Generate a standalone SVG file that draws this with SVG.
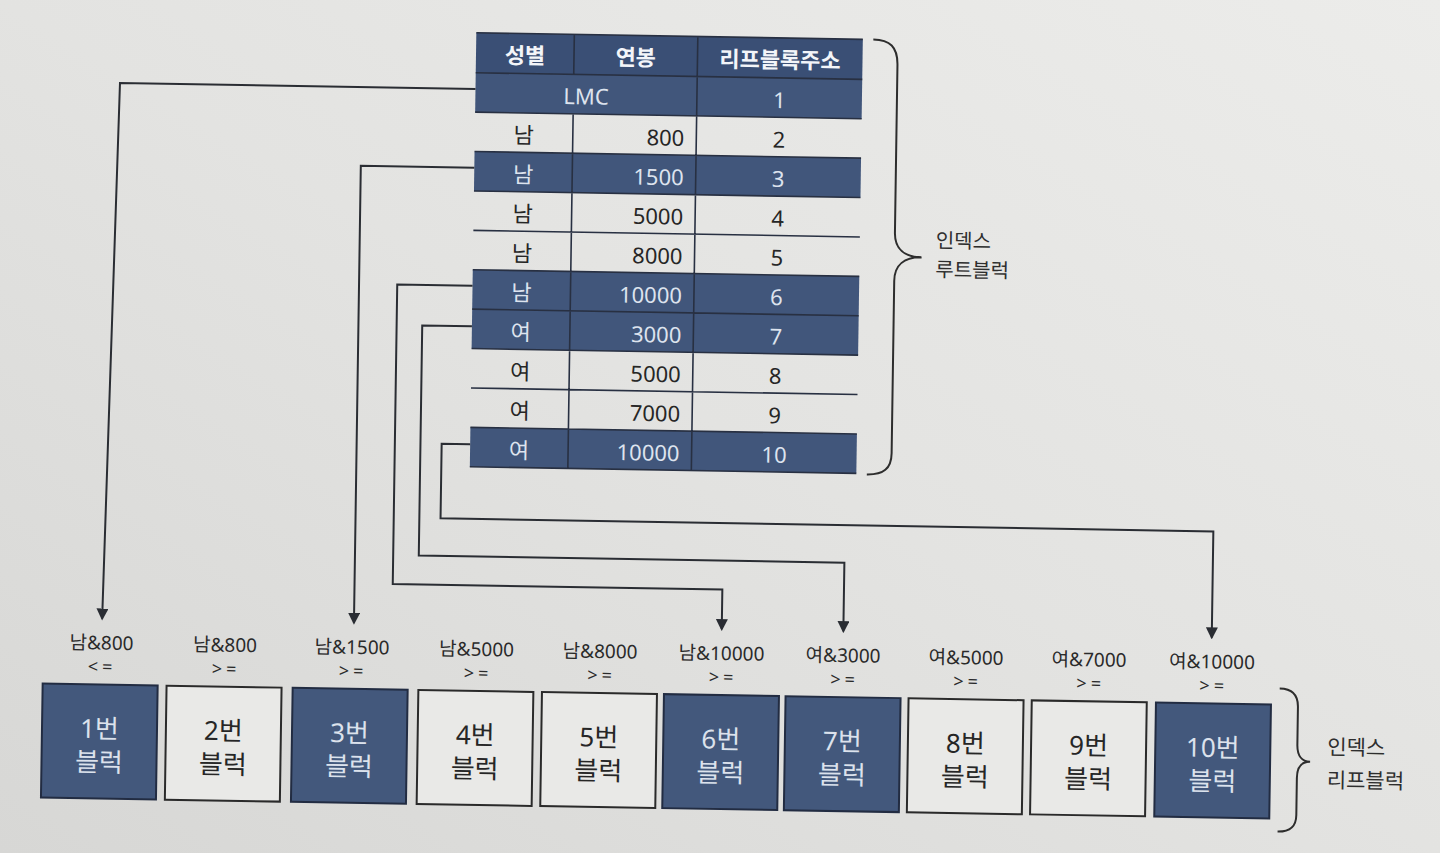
<svg xmlns="http://www.w3.org/2000/svg" width="1440" height="853" viewBox="0 0 1440 853">
<defs>
<linearGradient id="bg" x1="0" y1="1" x2="1" y2="0">
<stop offset="0" stop-color="#d7d7d5"/>
<stop offset="0.5" stop-color="#e3e3e1"/>
<stop offset="1" stop-color="#ececea"/>
</linearGradient>
<marker id="arr" markerUnits="userSpaceOnUse" markerWidth="12" markerHeight="12" refX="10" refY="6" orient="auto">
<path d="M0,0 L12,6 L0,12 Z" fill="#2a2d33"/>
</marker>
<style>
text{font-family:"Noto Sans","Noto Sans CJK KR",sans-serif}
.dark{fill:#41567b}
.hdr{fill:#3a4f75}
.tl{stroke:#283042;stroke-width:1.6;fill:none}
.th{font-size:22px;font-weight:700;fill:#f3f5f9;text-anchor:middle}
.tdw{font-size:22px;fill:#dde3ee}
.tdb{font-size:22px;fill:#262626}
.m{text-anchor:middle}
.e{text-anchor:end}
.conn{stroke:#2a2d33;stroke-width:2;fill:none;marker-end:url(#arr)}
.brace{stroke:#2d2d2d;stroke-width:2;fill:none}
.blab{font-size:21px;fill:#2e2e2e}
.rlab{font-size:20px;fill:#2e2e2e}
.bd{fill:#43587c;stroke:#222c42;stroke-width:2}
.bl{fill:#e9e9e7;stroke:#2a2a2a;stroke-width:2}
.btw{font-size:26px;fill:#dce2ec;text-anchor:middle}
.btb{font-size:26px;fill:#262626;text-anchor:middle}
.lk{font-size:19px;fill:#2a2a2a;text-anchor:middle}
.op{font-size:18px;fill:#2a2a2a;text-anchor:middle;letter-spacing:4px}
</style>
</defs>
<rect x="0" y="0" width="1440" height="853" fill="url(#bg)"/>
<g transform="matrix(1,0.017,-0.015,1,6.39,-12.24)">
<g id="root-block">
<g id="row-header">
<rect class="hdr" x="470.5" y="37" width="386.5" height="40"/>
<text class="th" x="519.5" y="67">성별</text>
<text class="th" x="630.25" y="67">연봉</text>
<text class="th" x="774.5" y="67">리프블록주소</text>
</g>
<g id="row-lmc">
<rect class="dark" x="470.5" y="77" width="386.5" height="39.4"/>
<text class="tdw m" x="581.25" y="106.7">LMC</text>
<text class="tdw m" x="774.5" y="107.2">1</text>
</g>
<g id="row-2">
<text class="tdb m" x="519.5" y="146.6">남</text>
<text class="tdb e" x="680" y="146.6">800</text>
<text class="tdb m" x="774.5" y="146.6">2</text>
</g>
<g id="row-3">
<rect class="dark" x="470.5" y="155.8" width="386.5" height="39.4"/>
<text class="tdw m" x="519.5" y="186">남</text>
<text class="tdw e" x="680" y="186">1500</text>
<text class="tdw m" x="774.5" y="186">3</text>
</g>
<g id="row-4">
<text class="tdb m" x="519.5" y="225.4">남</text>
<text class="tdb e" x="680" y="225.4">5000</text>
<text class="tdb m" x="774.5" y="225.4">4</text>
</g>
<g id="row-5">
<text class="tdb m" x="519.5" y="264.8">남</text>
<text class="tdb e" x="680" y="264.8">8000</text>
<text class="tdb m" x="774.5" y="264.8">5</text>
</g>
<g id="row-6">
<rect class="dark" x="470.5" y="274" width="386.5" height="39.4"/>
<text class="tdw m" x="519.5" y="304.2">남</text>
<text class="tdw e" x="680" y="304.2">10000</text>
<text class="tdw m" x="774.5" y="304.2">6</text>
</g>
<g id="row-7">
<rect class="dark" x="470.5" y="313.4" width="386.5" height="39.4"/>
<text class="tdw m" x="519.5" y="343.6">여</text>
<text class="tdw e" x="680" y="343.6">3000</text>
<text class="tdw m" x="774.5" y="343.6">7</text>
</g>
<g id="row-8">
<text class="tdb m" x="519.5" y="383">여</text>
<text class="tdb e" x="680" y="383">5000</text>
<text class="tdb m" x="774.5" y="383">8</text>
</g>
<g id="row-9">
<text class="tdb m" x="519.5" y="422.4">여</text>
<text class="tdb e" x="680" y="422.4">7000</text>
<text class="tdb m" x="774.5" y="422.4">9</text>
</g>
<g id="row-10">
<rect class="dark" x="470.5" y="431.6" width="386.5" height="39.4"/>
<text class="tdw m" x="519.5" y="461.8">여</text>
<text class="tdw e" x="680" y="461.8">10000</text>
<text class="tdw m" x="774.5" y="461.8">10</text>
</g>
<path class="tl" d="M470.5 37H857M470.5 77H857M470.5 116.4H857M470.5 155.8H857M470.5 195.2H857M470.5 234.6H857M470.5 274H857M470.5 313.4H857M470.5 352.8H857M470.5 392.2H857M470.5 431.6H857M470.5 471H857M568.5 37V77M568.5 116.4V471M692 37V471"/>
</g>
<g id="brace-root">
<path class="brace" d="M867.5 37C884 37 892 44 892 62L892 230C892 246 902 254 919 254C902 254 892 262 892 278L892 450C892 466 884 472 867.5 472"/>
<text class="rlab" x="933" y="244">인덱스</text>
<text class="rlab" x="933" y="273">루트블럭</text>
</g>
<g id="connectors">
<path class="conn" d="M470.5 93.2H115L105.2 629"/>
<path class="conn" d="M470.5 172H357V629"/>
<path class="conn" d="M470.5 290H395.2V589.5H724.8V629"/>
<path class="conn" d="M470.5 330.6H420.8V560.5H846.4V629"/>
<path class="conn" d="M470.5 448.5H442V523H1214.8V629"/>
</g>
<g id="leaf-1">
<text class="lk" x="105" y="660">남&amp;800</text>
<text class="op" x="106" y="683.5">&lt;=</text>
<rect class="bd" x="46.7" y="695" width="115" height="114"/>
<text class="btw" x="104.2" y="748.5">1번</text>
<text class="btw" x="104.2" y="782">블럭</text>
</g>
<g id="leaf-2">
<text class="lk" x="228.5" y="660">남&amp;800</text>
<text class="op" x="230" y="683.5">&gt;=</text>
<rect class="bl" x="170.6" y="695" width="115" height="114"/>
<text class="btb" x="228.1" y="748.5">2번</text>
<text class="btb" x="228.1" y="782">블럭</text>
</g>
<g id="leaf-3">
<text class="lk" x="355.5" y="660">남&amp;1500</text>
<text class="op" x="357" y="683.5">&gt;=</text>
<rect class="bd" x="296.7" y="695" width="115" height="114"/>
<text class="btw" x="354.2" y="748.5">3번</text>
<text class="btw" x="354.2" y="782">블럭</text>
</g>
<g id="leaf-4">
<text class="lk" x="480" y="660">남&amp;5000</text>
<text class="op" x="482" y="683.5">&gt;=</text>
<rect class="bl" x="422.4" y="695" width="115" height="114"/>
<text class="btb" x="479.9" y="748.5">4번</text>
<text class="btb" x="479.9" y="782">블럭</text>
</g>
<g id="leaf-5">
<text class="lk" x="603.5" y="660">남&amp;8000</text>
<text class="op" x="605.5" y="683.5">&gt;=</text>
<rect class="bl" x="546" y="695" width="115" height="114"/>
<text class="btb" x="603.5" y="748.5">5번</text>
<text class="btb" x="603.5" y="782">블럭</text>
</g>
<g id="leaf-6">
<text class="lk" x="725" y="660">남&amp;10000</text>
<text class="op" x="727" y="683.5">&gt;=</text>
<rect class="bd" x="668" y="695" width="115" height="114"/>
<text class="btw" x="725.5" y="748.5">6번</text>
<text class="btw" x="725.5" y="782">블럭</text>
</g>
<g id="leaf-7">
<text class="lk" x="846.5" y="660">여&amp;3000</text>
<text class="op" x="848.5" y="683.5">&gt;=</text>
<rect class="bd" x="789.6" y="695" width="115" height="114"/>
<text class="btw" x="847.1" y="748.5">7번</text>
<text class="btw" x="847.1" y="782">블럭</text>
</g>
<g id="leaf-8">
<text class="lk" x="969.5" y="660">여&amp;5000</text>
<text class="op" x="971.5" y="683.5">&gt;=</text>
<rect class="bl" x="912.6" y="695" width="115" height="114"/>
<text class="btb" x="970.1" y="748.5">8번</text>
<text class="btb" x="970.1" y="782">블럭</text>
</g>
<g id="leaf-9">
<text class="lk" x="1092.5" y="660">여&amp;7000</text>
<text class="op" x="1094.5" y="683.5">&gt;=</text>
<rect class="bl" x="1035.8" y="695" width="115" height="114"/>
<text class="btb" x="1093.3" y="748.5">9번</text>
<text class="btb" x="1093.3" y="782">블럭</text>
</g>
<g id="leaf-10">
<text class="lk" x="1215.5" y="660">여&amp;10000</text>
<text class="op" x="1217.5" y="683.5">&gt;=</text>
<rect class="bd" x="1160" y="695" width="115" height="114"/>
<text class="btw" x="1217.5" y="748.5">10번</text>
<text class="btw" x="1217.5" y="782">블럭</text>
</g>
<g id="brace-leaf">
<path class="brace" d="M1283.5 679C1296 679 1302 685 1302 697L1302 735C1302 746 1307 751.7 1315 751.7C1307 751.7 1302 757 1302 768L1302 805C1302 817 1296 822 1283.5 822"/>
<text class="blab" x="1332" y="744">인덱스</text>
<text class="blab" x="1332" y="777">리프블럭</text>
</g>
</g>
</svg>
